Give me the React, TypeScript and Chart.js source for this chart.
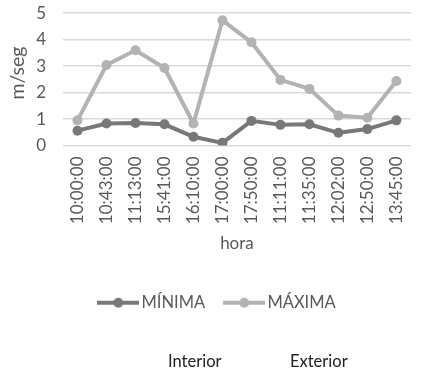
import React, { useEffect, useRef } from "react";
import { Chart, registerables } from "chart.js";

Chart.register(...registerables);

const categories = ["10:00:00", "10:43:00", "11:13:00", "15:41:00", "16:10:00", "17:00:00", "17:50:00", "11:11:00", "11:35:00", "12:02:00", "12:50:00", "13:45:00"];
const minima = [0.56, 0.83, 0.85, 0.8, 0.33, 0.1, 0.93, 0.78, 0.8, 0.48, 0.62, 0.95];
const maxima = [0.95, 3.04, 3.6, 2.93, 0.83, 4.73, 3.9, 2.48, 2.14, 1.13, 1.05, 2.44];
const seriesNames = ["MÍNIMA", "MÁXIMA"];
const yTicks = [0, 1, 2, 3, 4, 5];
const yTitle = "m/seg";
const xTitle = "hora";
const bottomLabels = ["Interior", "Exterior"];

const MIN_COLOR = "#787878";
const MAX_COLOR = "#b3b3b3";
const TEXT = "#595959";
const FONT = "Lato, 'Open Sans', sans-serif";

function legendMarker(color: string) {
  const c = document.createElement("canvas");
  c.width = 42;
  c.height = 12;
  const ctx = c.getContext("2d")!;
  ctx.strokeStyle = color;
  ctx.lineWidth = 4;
  ctx.beginPath();
  ctx.moveTo(0, 6);
  ctx.lineTo(42, 6);
  ctx.stroke();
  ctx.fillStyle = color;
  ctx.beginPath();
  ctx.arc(21, 6, 5, 0, Math.PI * 2);
  ctx.fill();
  return c;
}

const yTitlePlugin = {
  id: "yTitlePlugin",
  afterDraw(chart: any) {
    const { ctx } = chart;
    ctx.save();
    ctx.translate(18, 73);
    ctx.rotate(-Math.PI / 2);
    ctx.fillStyle = TEXT;
    ctx.font = `19.5px ${FONT}`;
    ctx.textAlign = "center";
    ctx.textBaseline = "middle";
    ctx.fillText(yTitle, 0, 0);
    ctx.restore();
  },
};

export default function App() {
  const ref = useRef<HTMLCanvasElement>(null);
  useEffect(() => {
    const markers = [legendMarker(MIN_COLOR), legendMarker(MAX_COLOR)];
    const chart = new Chart(ref.current!, {
      type: "line",
      plugins: [yTitlePlugin],
      data: {
        labels: categories,
        datasets: [
          {
            label: seriesNames[0],
            data: minima,
            borderColor: MIN_COLOR,
            backgroundColor: MIN_COLOR,
            borderWidth: 4,
            pointRadius: 5,
            pointBorderWidth: 0,
            pointBackgroundColor: MIN_COLOR,
            tension: 0,
          },
          {
            label: seriesNames[1],
            data: maxima,
            borderColor: MAX_COLOR,
            backgroundColor: MAX_COLOR,
            borderWidth: 4,
            pointRadius: 5,
            pointBorderWidth: 0,
            pointBackgroundColor: MAX_COLOR,
            tension: 0,
          },
        ],
      },
      options: {
        animation: false,
        responsive: false,
        maintainAspectRatio: false,
        layout: { padding: { top: 13, right: 1, left: 12, bottom: 50 } },
        plugins: {
          tooltip: { enabled: false },
          legend: {
            position: "bottom",
            labels: {
              color: TEXT,
              font: { family: FONT, size: 16.5 },
              usePointStyle: true,
              pointStyleWidth: 30,
              boxHeight: 12,
              padding: 24,
              generateLabels: (ch: any) =>
                ch.data.datasets.map((ds: any, i: number) => ({
                  text: ds.label,
                  pointStyle: markers[i],
                  fillStyle: ds.borderColor,
                  strokeStyle: ds.borderColor,
                  lineWidth: 0,
                  hidden: false,
                  datasetIndex: i,
                  fontColor: TEXT,
                })),
            },
          },
        },
        scales: {
          x: {
            offset: true,
            grid: { display: false, drawTicks: false },
            border: { display: false },
            afterFit: (scale: any) => {
              scale.height = 125;
            },
            ticks: {
              color: TEXT,
              font: { family: FONT, size: 17 },
              minRotation: 90,
              maxRotation: 90,
              padding: 11,
              autoSkip: false,
            },
            title: {
              display: true,
              text: xTitle,
              color: TEXT,
              font: { family: FONT, size: 17 },
              padding: { top: 0, bottom: 17 },
            },
          },
          y: {
            min: yTicks[0],
            max: yTicks[yTicks.length - 1],
            afterBuildTicks: (axis: any) => {
              axis.ticks = yTicks.map((v) => ({ value: v }));
            },
            afterFit: (scale: any) => {
              scale.width = 51;
            },
            grid: { color: "#d9d9d9", lineWidth: 1.5, drawTicks: true, tickLength: 14, tickColor: "rgba(0,0,0,0)" },
            border: { display: false },
            ticks: {
              color: TEXT,
              font: { family: FONT, size: 17 },
              padding: 3,
            },
            title: { display: false },
          },
        },
      },
    });
    return () => chart.destroy();
  }, []);

  return (
    <div style={{ position: "absolute", left: 0, top: 0, width: 428, height: 371 }}>
      <canvas ref={ref} width={428} height={371} style={{ display: "block" }} />
      <div style={{ position: "absolute", left: 168, top: 351, font: `16.5px ${FONT}`, color: "#222", whiteSpace: "nowrap" }}>{bottomLabels[0]}</div>
      <div style={{ position: "absolute", left: 290, top: 351, font: `16.5px ${FONT}`, color: "#222", whiteSpace: "nowrap" }}>{bottomLabels[1]}</div>
    </div>
  );
}
